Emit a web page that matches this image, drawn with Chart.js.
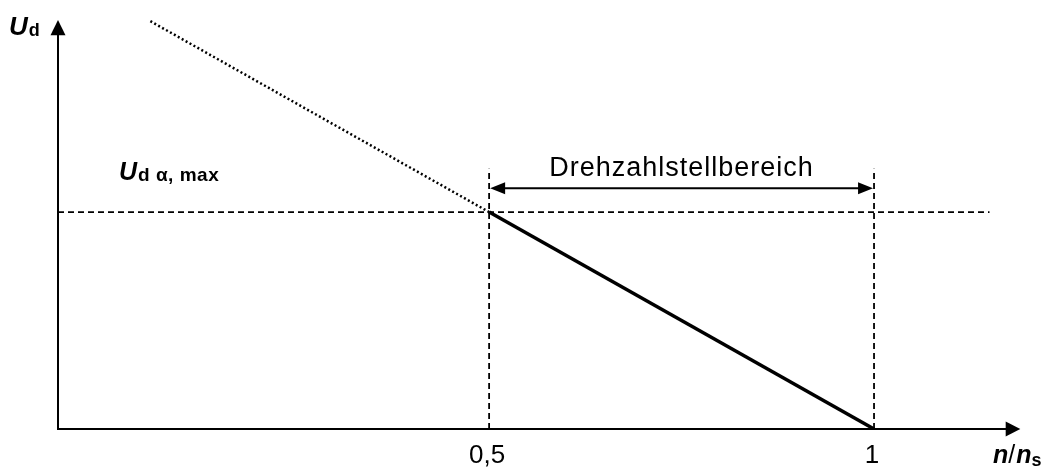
<!DOCTYPE html>
<html>
<head>
<meta charset="utf-8">
<script src="https://cdn.jsdelivr.net/npm/chart.js@4/dist/chart.umd.min.js"></script>
<style>
  html, body { margin: 0; padding: 0; background: #fff; }
  #wrap { width: 1047px; height: 471px; }
</style>
</head>
<body>
<div id="wrap"><canvas id="chart"></canvas></div>
<script>
// Kennlinie U_d über n/n_s (Werte relativ: U_d alpha,max = 1)
const kennlinieVoll = [{x: 0.5, y: 1}, {x: 1, y: 0}];
const kennliniePunkt = [{x: 0.06, y: 1.88}, {x: 0.5, y: 1}];
const grenzeU = [{x: -0.06, y: 1}, {x: 1.15, y: 1}];
const grenzeLinks = [{x: 0.5, y: 0}, {x: 0.5, y: 1.2}];
const grenzeRechts = [{x: 1, y: 0}, {x: 1, y: 1.2}];
const bereichY = 1.11;
const tickWerte = [0.5, 1];
const tickTexte = ['0,5', '1'];

const FONT = '"Liberation Sans", Arial, sans-serif';

// zeichnet Text aus mehreren Teilen (Index usw.)
function textRuns(ctx, x, y, runs) {
    let cx = x;
    for (const r of runs) {
        ctx.font = r.font;
        ctx.letterSpacing = (r.ls || 0) + 'px';
        ctx.fillText(r.t, cx, y + (r.dy || 0));
        cx += ctx.measureText(r.t).width + (r.gap || 0);
    }
    ctx.letterSpacing = '0px';
}

function dreieck(ctx, tip, b1, b2) {
    ctx.beginPath();
    ctx.moveTo(tip[0], tip[1]);
    ctx.lineTo(b1[0], b1[1]);
    ctx.lineTo(b2[0], b2[1]);
    ctx.closePath();
    ctx.fill();
}

const deko = {
    id: 'deko',
    afterDatasetsDraw(chart) {
        const ctx = chart.ctx;
        const xs = chart.scales.x, ys = chart.scales.y;
        const px = v => xs.getPixelForValue(v);
        const py = v => ys.getPixelForValue(v);
        ctx.save();
        ctx.fillStyle = '#000';
        ctx.strokeStyle = '#000';

        // Achsen
        const x0 = px(-0.06), y0 = py(0);
        ctx.lineWidth = 2;
        ctx.beginPath();
        ctx.moveTo(x0, y0);
        ctx.lineTo(x0, py(1.82));
        ctx.moveTo(x0 - 1, y0);
        ctx.lineTo(px(1.175), y0);
        ctx.stroke();
        dreieck(ctx, [x0, py(1.885)], [x0 - 7.5, py(1.815)], [x0 + 7.5, py(1.815)]);
        dreieck(ctx, [px(1.19), y0], [px(1.171), y0 - 7.5], [px(1.171), y0 + 7.5]);

        // Doppelpfeil Drehzahlstellbereich
        const a = px(0.5), b = px(1), yb = py(bereichY);
        ctx.lineWidth = 2;
        ctx.beginPath();
        ctx.moveTo(a + 12, yb);
        ctx.lineTo(b - 12, yb);
        ctx.stroke();
        dreieck(ctx, [a + 1, yb], [a + 16, yb - 6], [a + 16, yb + 6]);
        dreieck(ctx, [b - 1, yb], [b - 16, yb - 6], [b - 16, yb + 6]);

        ctx.textBaseline = 'alphabetic';
        ctx.textAlign = 'center';
        ctx.font = '27px ' + FONT;
        ctx.letterSpacing = '1px';
        ctx.fillText('Drehzahlstellbereich', (a + b) / 2, yb - 12);
        ctx.letterSpacing = '0px';

        // Tick-Beschriftung
        ctx.font = '26px ' + FONT;
        tickWerte.forEach((v, i) => ctx.fillText(tickTexte[i], px(v) - 2, y0 + 34));

        // Achsentitel
        ctx.textAlign = 'left';
        textRuns(ctx, 9, 35, [
            {t: 'U', font: 'italic bold 26px ' + FONT, gap: 1},
            {t: 'd', font: 'bold 18px ' + FONT, dy: 1}
        ]);
        textRuns(ctx, 993, y0 + 34, [
            {t: 'n', font: 'italic bold 25px ' + FONT},
            {t: '/', font: '25px ' + FONT, gap: 1},
            {t: 'n', font: 'italic bold 25px ' + FONT},
            {t: 's', font: 'bold 18px ' + FONT, dy: 3}
        ]);
        textRuns(ctx, 119, py(1.11) - 8, [
            {t: 'U', font: 'italic bold 25px ' + FONT, gap: 1},
            {t: 'd α, max', font: 'bold 19px ' + FONT, dy: 1, ls: 0.5}
        ]);
        ctx.restore();
    }
};

new Chart(document.getElementById('chart'), {
    type: 'scatter',
    data: {
        datasets: [
            {data: kennlinieVoll, showLine: true, borderColor: '#000', borderWidth: 3.5, pointRadius: 0},
            {data: kennliniePunkt, showLine: true, borderColor: '#000', borderWidth: 2.5, borderDash: [2, 2.5], pointRadius: 0},
            {data: grenzeU, showLine: true, borderColor: '#000', borderWidth: 1.8, borderDash: [6, 4], pointRadius: 0},
            {data: grenzeLinks, showLine: true, borderColor: '#000', borderWidth: 1.8, borderDash: [6, 4], pointRadius: 0},
            {data: grenzeRechts, showLine: true, borderColor: '#000', borderWidth: 1.8, borderDash: [6, 4], pointRadius: 0}
        ]
    },
    options: {
        responsive: true,
        maintainAspectRatio: false,
        animation: false,
        layout: {padding: {left: 58, right: 19, top: 6, bottom: 42}},
        plugins: {legend: {display: false}, tooltip: {enabled: false}},
        scales: {
            x: {type: 'linear', min: -0.06, max: 1.2, display: false},
            y: {type: 'linear', min: 0, max: 1.95, display: false}
        }
    },
    plugins: [deko]
});
</script>
</body>
</html>
